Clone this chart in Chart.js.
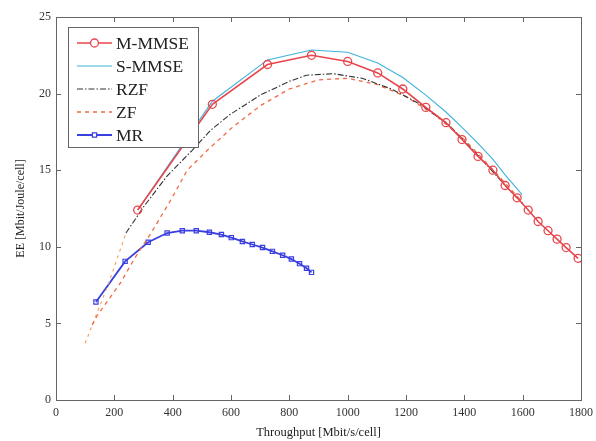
<!DOCTYPE html>
<html>
<head>
<meta charset="utf-8">
<script src="https://cdn.jsdelivr.net/npm/chart.js@4.4.1/dist/chart.umd.min.js"></script>
<style>
  html, body { margin: 0; padding: 0; background: #fff; }
  #wrap { width: 596px; height: 441px; }
</style>
</head>
<body>
<div id="wrap"><canvas id="chart"></canvas></div>
<script>
// 데이터
const seriesNames = ['M-MMSE', 'S-MMSE', 'RZF', 'ZF', 'MR'];

const mmmseX = [280, 536, 725, 876, 1000, 1103, 1189, 1268, 1337, 1392, 1447, 1498, 1540, 1581, 1619, 1653, 1687, 1718, 1749, 1790];
const mmmseY = [12.4, 19.3, 21.9, 22.5, 22.1, 21.35, 20.3, 19.1, 18.1, 17.0, 15.9, 15.0, 14.0, 13.2, 12.4, 11.65, 11.05, 10.5, 9.95, 9.25];

const smmseX = [280, 536, 725, 876, 1000, 1103, 1189, 1268, 1337, 1392, 1447, 1498, 1540, 1598];
const smmseY = [12.4, 19.5, 22.2, 22.85, 22.7, 22.0, 21.05, 19.9, 18.8, 17.8, 16.75, 15.7, 14.7, 13.4];

const rzfX = [240, 300, 380, 467, 530, 594, 700, 800, 859, 950, 1050, 1150, 1250, 1350, 1450, 1550, 1600];
const rzfY = [10.9, 12.6, 14.6, 16.3, 17.6, 18.6, 19.9, 20.8, 21.2, 21.3, 21.0, 20.3, 19.3, 17.9, 15.9, 13.8, 12.8];

const zfX = [124, 141, 223, 268, 326, 395, 450, 519, 605, 700, 800, 900, 1000, 1100, 1200, 1300, 1400, 1500, 1600];
const zfY = [4.9, 5.5, 7.7, 9.2, 10.9, 13.1, 15.0, 16.3, 17.8, 19.2, 20.3, 20.9, 21.0, 20.6, 19.8, 18.6, 17.0, 15.0, 12.9];

// 왼쪽 아래의 짧은 점선 (범례 없음)
const zfLowX = [100, 182, 240];
const zfLowY = [3.7, 7.7, 10.9];

const mrX = [137, 237, 316, 381, 433, 481, 526, 567, 601, 639, 673, 708, 742, 777, 807, 835, 859, 876];
const mrY = [6.4, 9.05, 10.3, 10.9, 11.05, 11.05, 10.95, 10.8, 10.6, 10.35, 10.15, 9.95, 9.7, 9.45, 9.2, 8.9, 8.6, 8.33];

const xTicks = [0, 200, 400, 600, 800, 1000, 1200, 1400, 1600, 1800];
const yTicks = [0, 5, 10, 15, 20, 25];

function toPoints(xs, ys) {
    return xs.map((x, i) => ({ x: x, y: ys[i] }));
}

const FONT = '"Liberation Serif", "Times New Roman", serif';

const datasets = [
    {
        label: seriesNames[0],
        data: toPoints(mmmseX, mmmseY),
        borderColor: '#e8464b',
        backgroundColor: 'rgba(255,255,255,0)',
        borderWidth: 1.6,
        pointStyle: 'circle',
        pointRadius: 4,
        pointBorderWidth: 1.3,
        pointBorderColor: '#e8464b'
    },
    {
        label: seriesNames[1],
        data: toPoints(smmseX, smmseY),
        borderColor: '#3fb2dc',
        borderWidth: 1.1,
        pointRadius: 0
    },
    {
        label: seriesNames[2],
        data: toPoints(rzfX, rzfY),
        borderColor: '#333333',
        borderWidth: 1.1,
        borderDash: [6, 2, 1.5, 2],
        pointRadius: 0
    },
    {
        label: seriesNames[3],
        data: toPoints(zfX, zfY),
        borderColor: '#f06a45',
        borderWidth: 1.3,
        borderDash: [4, 4],
        pointRadius: 0
    },
    {
        label: '',
        data: toPoints(zfLowX, zfLowY),
        borderColor: '#f0a060',
        borderWidth: 1.1,
        borderDash: [3, 4],
        pointRadius: 0,
        noLegend: true
    },
    {
        label: seriesNames[4],
        data: toPoints(mrX, mrY),
        borderColor: '#3a3fe0',
        backgroundColor: 'rgba(255,255,255,0)',
        borderWidth: 1.8,
        pointStyle: 'rect',
        pointRadius: 3,
        pointBorderWidth: 1.2,
        pointBorderColor: '#3a3fe0'
    }
];

// 축 테두리 + 안쪽 눈금 (MATLAB 스타일)
const framePlugin = {
    id: 'frame',
    afterDraw(chart) {
        const ctx = chart.ctx;
        const a = chart.chartArea;
        const xs = chart.scales.x;
        const ys = chart.scales.y;
        ctx.save();
        ctx.strokeStyle = '#666';
        ctx.lineWidth = 1;
        ctx.strokeRect(a.left + 0.5, a.top + 0.5, a.right - a.left, a.bottom - a.top);
        const len = 5;
        ctx.beginPath();
        xTicks.forEach(v => {
            const px = Math.round(xs.getPixelForValue(v)) + 0.5;
            ctx.moveTo(px, a.bottom); ctx.lineTo(px, a.bottom - len);
            ctx.moveTo(px, a.top); ctx.lineTo(px, a.top + len);
        });
        yTicks.forEach(v => {
            const py = Math.round(ys.getPixelForValue(v)) + 0.5;
            ctx.moveTo(a.left, py); ctx.lineTo(a.left + len, py);
            ctx.moveTo(a.right, py); ctx.lineTo(a.right - len, py);
        });
        ctx.stroke();
        ctx.restore();
    }
};

// 범례 (그래프 안 왼쪽 위)
const legendPlugin = {
    id: 'boxLegend',
    afterDraw(chart) {
        const ctx = chart.ctx;
        const bx = 68, by = 27, bw = 130, bh = 120;
        ctx.save();
        ctx.fillStyle = '#fff';
        ctx.fillRect(bx, by, bw, bh);
        ctx.strokeStyle = '#666';
        ctx.lineWidth = 1;
        ctx.strokeRect(bx + 0.5, by + 0.5, bw, bh);
        const items = chart.data.datasets.filter(d => !d.noLegend);
        items.forEach((ds, i) => {
            const y = 43 + i * 23;
            ctx.strokeStyle = ds.borderColor;
            ctx.lineWidth = ds.borderWidth;
            ctx.setLineDash(ds.borderDash || []);
            ctx.beginPath();
            ctx.moveTo(77, y); ctx.lineTo(112, y);
            ctx.stroke();
            ctx.setLineDash([]);
            if (ds.pointRadius > 0) {
                ctx.lineWidth = ds.pointBorderWidth;
                ctx.fillStyle = '#fff';
                Chart.helpers.drawPoint(ctx, {
                    pointStyle: ds.pointStyle,
                    radius: ds.pointRadius,
                    borderWidth: ds.pointBorderWidth,
                    rotation: 0
                }, 94.5, y);
            }
            ctx.fillStyle = '#222';
            ctx.font = '17.5px ' + FONT;
            ctx.textBaseline = 'middle';
            ctx.textAlign = 'left';
            ctx.fillText(ds.label, 116, y + 1);
        });
        ctx.restore();
    }
};

new Chart(document.getElementById('chart'), {
    type: 'scatter',
    data: { datasets: datasets.map(d => Object.assign({ showLine: true, tension: 0 }, d)) },
    options: {
        responsive: true,
        maintainAspectRatio: false,
        animation: false,
        layout: { padding: { top: 17, right: 15, left: 0, bottom: 0 } },
        plugins: {
            legend: { display: false },
            tooltip: { enabled: false }
        },
        scales: {
            x: {
                type: 'linear',
                min: 0,
                max: 1800,
                afterFit: s => { s.height = 41; s.paddingRight = 0; s.paddingLeft = 0; },
                afterBuildTicks: s => { s.ticks = xTicks.map(v => ({ value: v })); },
                grid: { display: false, drawTicks: false },
                border: { display: false },
                ticks: {
                    color: '#333', padding: 6, maxRotation: 0,
                    font: { family: FONT, size: 12 },
                    callback: v => String(v)
                },
                title: {
                    display: true,
                    text: 'Throughput [Mbit/s/cell]',
                    color: '#222',
                    padding: { top: 0, bottom: 1 },
                    font: { family: FONT, size: 12.5 }
                }
            },
            y: {
                type: 'linear',
                min: 0,
                max: 25,
                afterFit: s => { s.width = 56; },
                afterBuildTicks: s => { s.ticks = yTicks.map(v => ({ value: v })); },
                grid: { display: false, drawTicks: false },
                border: { display: false },
                ticks: { color: '#333', padding: 5, font: { family: FONT, size: 12 } },
                title: {
                    display: true,
                    text: 'EE [Mbit/Joule/cell]',
                    color: '#222',
                    padding: { top: 14, bottom: 0 },
                    font: { family: FONT, size: 12 }
                }
            }
        }
    },
    plugins: [framePlugin, legendPlugin]
});
</script>
</body>
</html>
